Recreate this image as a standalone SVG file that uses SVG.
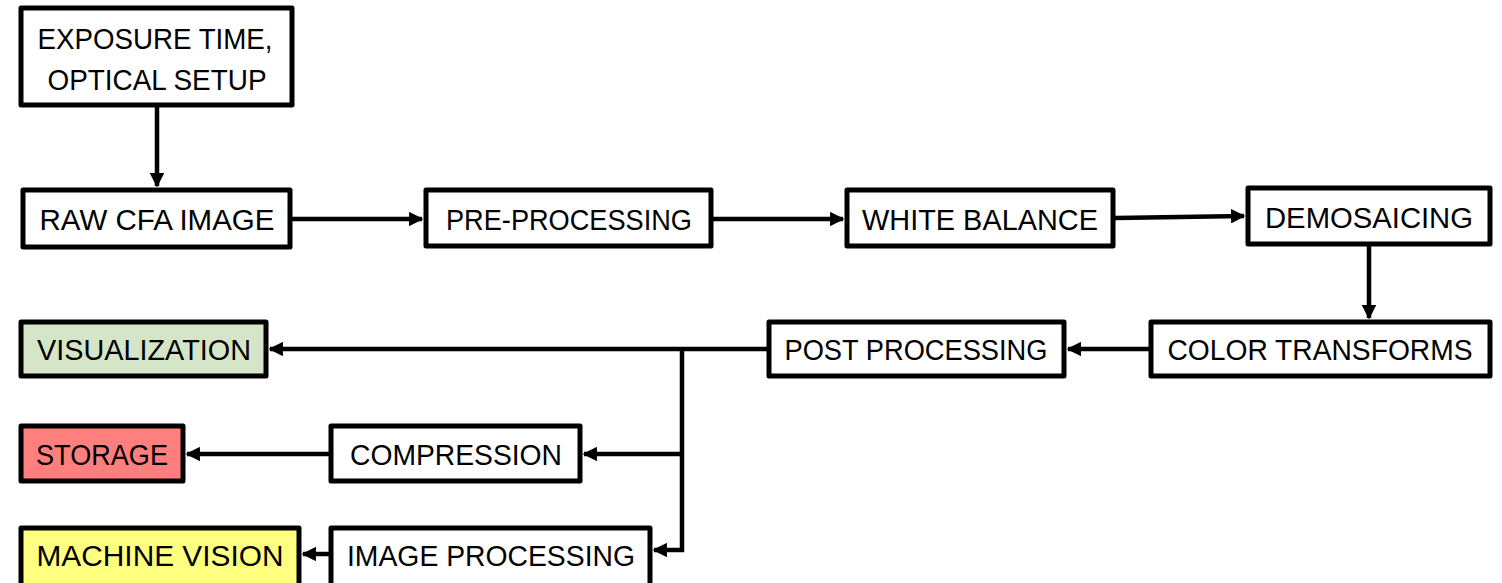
<svg xmlns="http://www.w3.org/2000/svg" width="1502" height="583" viewBox="0 0 1502 583">
<style>
.box{fill:#fff;stroke:#000;stroke-width:5;stroke-linejoin:round}
.t{font-family:"Liberation Sans",Arial,sans-serif;font-size:29px;fill:#000;text-anchor:middle}
.c{stroke:#000;stroke-width:4.5;fill:none}
</style>
<defs>
<marker id="ah" viewBox="0 0 10 10" refX="9" refY="5" markerWidth="3.2" markerHeight="3.2" orient="auto" markerUnits="strokeWidth">
<path d="M0,0 L10,5 L0,10 z" fill="#000"/>
</marker>
</defs>
<rect width="1502" height="583" fill="#fff"/>
<g id="connectors">
<path class="c" d="M157,107 V186" marker-end="url(#ah)"/>
<path class="c" d="M292,219 H422" marker-end="url(#ah)"/>
<path class="c" d="M713,219 H843" marker-end="url(#ah)"/>
<path class="c" d="M1115,218 L1244,216" marker-end="url(#ah)"/>
<path class="c" d="M1369,246 V318" marker-end="url(#ah)"/>
<path class="c" d="M1149,349 H1068" marker-end="url(#ah)"/>
<path class="c" d="M767,349 H270" marker-end="url(#ah)"/>
<path class="c" d="M682,349 V552"/>
<path class="c" d="M682,454 H584" marker-end="url(#ah)"/>
<path class="c" d="M684,550 H654" marker-end="url(#ah)"/>
<path class="c" d="M329,454 H187" marker-end="url(#ah)"/>
<path class="c" d="M329,554 H303" marker-end="url(#ah)"/>
</g>
<g id="exposure"><rect class="box" x="21" y="8" width="271" height="97"/><text class="t" x="155" y="49" textLength="235" lengthAdjust="spacingAndGlyphs">EXPOSURE TIME,</text><text class="t" x="157" y="90" textLength="219" lengthAdjust="spacingAndGlyphs">OPTICAL SETUP</text></g>
<g id="raw"><rect class="box" x="23" y="190" width="267" height="57"/><text class="t" x="157" y="230" textLength="235" lengthAdjust="spacingAndGlyphs">RAW CFA IMAGE</text></g>
<g id="pre"><rect class="box" x="426" y="190" width="285" height="56"/><text class="t" x="569" y="230" textLength="246" lengthAdjust="spacingAndGlyphs">PRE-PROCESSING</text></g>
<g id="wb"><rect class="box" x="847" y="190" width="266" height="56"/><text class="t" x="980" y="230" textLength="236" lengthAdjust="spacingAndGlyphs">WHITE BALANCE</text></g>
<g id="demo"><rect class="box" x="1248" y="188" width="242" height="56"/><text class="t" x="1369" y="228" textLength="208" lengthAdjust="spacingAndGlyphs">DEMOSAICING</text></g>
<g id="color"><rect class="box" x="1151" y="322" width="339" height="54"/><text class="t" x="1320" y="360" textLength="305" lengthAdjust="spacingAndGlyphs">COLOR TRANSFORMS</text></g>
<g id="post"><rect class="box" x="769" y="322" width="295" height="54"/><text class="t" x="916" y="360" textLength="263" lengthAdjust="spacingAndGlyphs">POST PROCESSING</text></g>
<g id="vis"><rect class="box" x="21" y="322" width="245" height="54" style="fill:#d4e6c7"/><text class="t" x="144" y="360" textLength="214" lengthAdjust="spacingAndGlyphs">VISUALIZATION</text></g>
<g id="storage"><rect class="box" x="21" y="426" width="162" height="55" style="fill:#ff7f7f"/><text class="t" x="102" y="465" textLength="132" lengthAdjust="spacingAndGlyphs">STORAGE</text></g>
<g id="compression"><rect class="box" x="331" y="426" width="249" height="55"/><text class="t" x="456" y="465" textLength="212" lengthAdjust="spacingAndGlyphs">COMPRESSION</text></g>
<g id="machine"><rect class="box" x="21" y="528" width="278" height="60" style="fill:#ffff80"/><text class="t" x="160" y="566" textLength="247" lengthAdjust="spacingAndGlyphs">MACHINE VISION</text></g>
<g id="imgproc"><rect class="box" x="331" y="528" width="319" height="60"/><text class="t" x="491" y="566" textLength="288" lengthAdjust="spacingAndGlyphs">IMAGE PROCESSING</text></g>
</svg>
